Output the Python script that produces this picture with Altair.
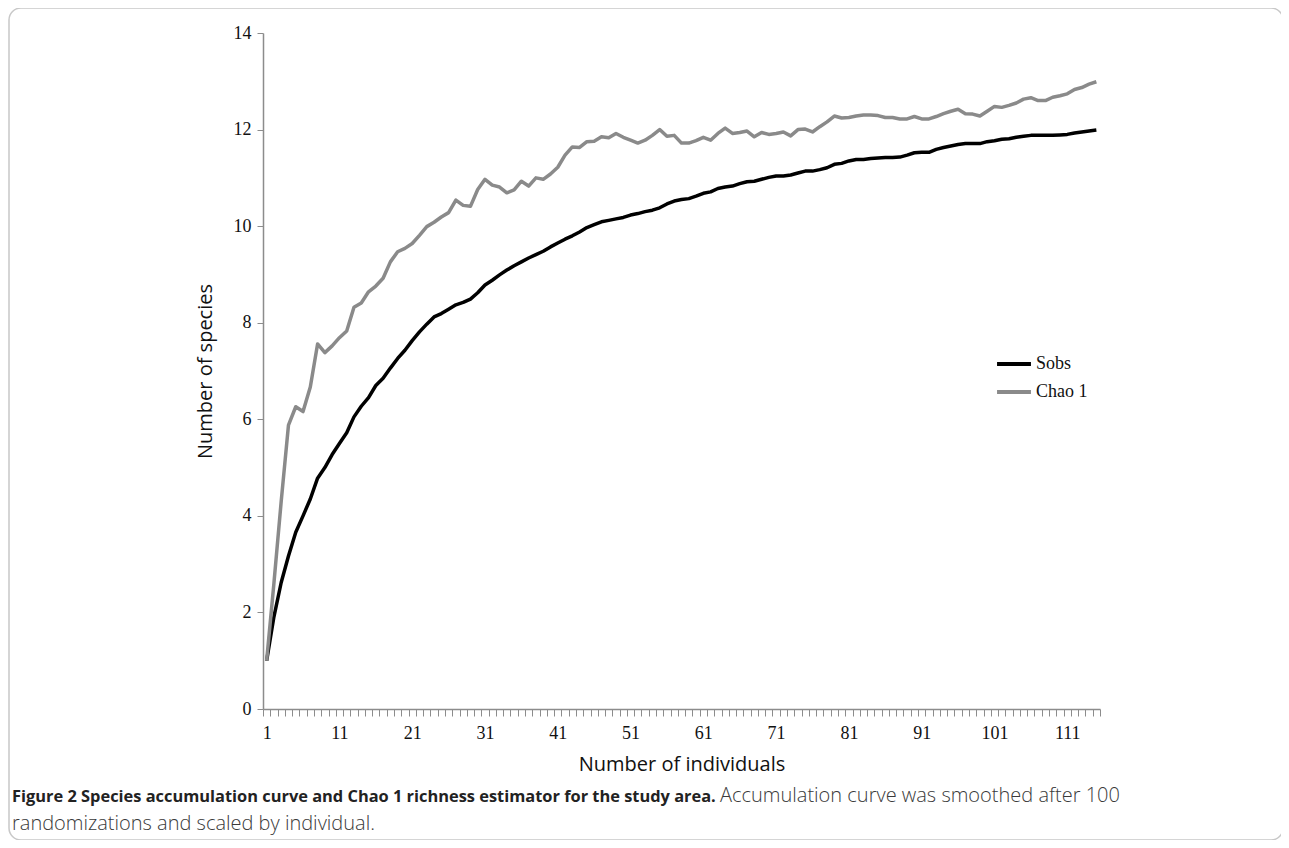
import altair as alt
import pandas as pd

individuals = list(range(1, 116))

sobs = [
    1.00, 1.91, 2.62, 3.17, 3.66, 4.00, 4.35, 4.78, 5.00, 5.27,
    5.50, 5.72, 6.05, 6.27, 6.45, 6.70, 6.85, 7.06, 7.26, 7.43,
    7.63, 7.81, 7.97, 8.12, 8.19, 8.28, 8.37, 8.42, 8.49, 8.62,
    8.78, 8.88, 8.99, 9.09, 9.18, 9.26, 9.34, 9.41, 9.48, 9.57,
    9.65, 9.73, 9.80, 9.88, 9.97, 10.03, 10.09, 10.12, 10.15, 10.18,
    10.23, 10.26, 10.30, 10.33, 10.38, 10.46, 10.52, 10.55, 10.57, 10.62,
    10.68, 10.71, 10.78, 10.81, 10.83, 10.88, 10.92, 10.93, 10.97, 11.01,
    11.04, 11.04, 11.06, 11.10, 11.14, 11.14, 11.17, 11.21, 11.28, 11.30,
    11.35, 11.38, 11.38, 11.40, 11.41, 11.42, 11.42, 11.43, 11.47, 11.52,
    11.53, 11.53, 11.59, 11.63, 11.66, 11.69, 11.71, 11.71, 11.71, 11.75,
    11.77, 11.80, 11.81, 11.84, 11.86, 11.88, 11.88, 11.88, 11.88, 11.89,
    11.90, 11.93, 11.95, 11.97, 11.99,
]

chao1 = [
    1.00, 2.60, 4.30, 5.88, 6.26, 6.16, 6.67, 7.56, 7.38, 7.52,
    7.69, 7.83, 8.32, 8.41, 8.64, 8.76, 8.92, 9.26, 9.47, 9.54,
    9.64, 9.81, 9.99, 10.08, 10.19, 10.28, 10.54, 10.43, 10.41, 10.76,
    10.97, 10.85, 10.81, 10.69, 10.75, 10.93, 10.83, 11.00, 10.97, 11.08,
    11.22, 11.47, 11.64, 11.63, 11.75, 11.76, 11.85, 11.83, 11.92, 11.84,
    11.78, 11.72, 11.78, 11.88, 12.00, 11.86, 11.88, 11.72, 11.72, 11.77,
    11.84, 11.78, 11.92, 12.03, 11.92, 11.94, 11.97, 11.85, 11.94, 11.90,
    11.92, 11.95, 11.87, 12.00, 12.01, 11.95, 12.06, 12.16, 12.28, 12.24,
    12.25, 12.28, 12.30, 12.30, 12.29, 12.25, 12.25, 12.22, 12.22, 12.27,
    12.22, 12.22, 12.27, 12.33, 12.38, 12.42, 12.33, 12.32, 12.28, 12.38,
    12.48, 12.46, 12.50, 12.55, 12.63, 12.66, 12.60, 12.60, 12.67, 12.70,
    12.74, 12.83, 12.87, 12.94, 12.99,
]

series_names = ["Sobs", "Chao 1"]
series_colors = ["#000000", "#8a8a8a"]
y_ticks = [0, 2, 4, 6, 8, 10, 12, 14]
x_tick_edges = [k + 0.5 for k in range(0, 116)]

caption_bold = "Figure 2 Species accumulation curve and Chao 1 richness estimator for the study area."
caption_rest1 = "Accumulation curve was smoothed after 100"
caption_rest2 = "randomizations and scaled by individual."

rows = []
for n, s, c in zip(individuals, sobs, chao1):
    rows.append({"n": n, "series": "Sobs", "value": s})
    rows.append({"n": n, "series": "Chao 1", "value": c})
df = pd.DataFrame(rows)

W, H = 837, 676
step = W / 115.0

lines = alt.Chart(df).mark_line(strokeWidth=3.5, strokeJoin="round").encode(
    x=alt.X(
        "n:Q",
        scale=alt.Scale(domain=[0.5, 115.5], nice=False, zero=False),
        axis=alt.Axis(
            title="Number of individuals",
            values=x_tick_edges,
            labelExpr="datum.value % 10 == 0.5 ? format(datum.value + 0.5, 'd') : ''",
            labelOffset=step / 2,
            labelFlush=False,
            labelOverlap=False,
            labelBound=False,
            grid=False,
            tickSize=7,
            tickColor="#8c8c8c",
            domainColor="#8c8c8c",
            domainWidth=1.5,
            labelFont="Liberation Serif",
            labelFontSize=18,
            labelColor="#111111",
            labelPadding=8,
            titleFont="Open Sans",
            titleFontSize=20,
            titleFontWeight="normal",
            titleColor="#111111",
            titlePadding=12,
        ),
    ),
    y=alt.Y(
        "value:Q",
        scale=alt.Scale(domain=[0, 14], nice=False),
        axis=alt.Axis(
            title="Number of species",
            values=y_ticks,
            grid=False,
            tickSize=6,
            tickColor="#8c8c8c",
            domainColor="#8c8c8c",
            domainWidth=1.5,
            labelFont="Liberation Serif",
            labelFontSize=18,
            labelColor="#111111",
            labelPadding=6,
            titleFont="Open Sans",
            titleFontSize=20,
            titleFontWeight="normal",
            titleColor="#111111",
            titlePadding=18,
        ),
    ),
    color=alt.Color(
        "series:N",
        scale=alt.Scale(domain=series_names, range=series_colors),
        legend=alt.Legend(
            title=None,
            orient="none",
            legendX=732,
            legendY=312,
            symbolType="stroke",
            symbolStrokeWidth=4,
            symbolSize=1150,
            labelFont="Liberation Serif",
            labelFontSize=18,
            labelColor="#111111",
            rowPadding=-6,
            labelOffset=3,
        ),
    ),
    order=alt.Order("n:Q"),
    detail="series:N",
)

one = pd.DataFrame({"t": [0]})

border = alt.Chart(one).mark_rect(
    fillOpacity=0, stroke="#c8c8c8", strokeWidth=1.5, cornerRadius=12
).encode(x=alt.value(-254), x2=alt.value(1020), y=alt.value(-25), y2=alt.value(807))

cap1 = alt.Chart(pd.DataFrame({"t": [caption_bold]})).mark_text(
    align="left", baseline="alphabetic", font="Open Sans", fontSize=16.4,
    fontWeight="bold", color="#222222"
).encode(x=alt.value(-251), y=alt.value(769), text="t:N")

cap2 = alt.Chart(pd.DataFrame({"t": [caption_rest1]})).mark_text(
    align="left", baseline="alphabetic", font="Open Sans", fontSize=20,
    fontWeight=300, color="#3a3a3a"
).encode(x=alt.value(457), y=alt.value(769), text="t:N")

cap3 = alt.Chart(pd.DataFrame({"t": [caption_rest2]})).mark_text(
    align="left", baseline="alphabetic", font="Open Sans", fontSize=20,
    fontWeight=300, color="#3a3a3a"
).encode(x=alt.value(-251), y=alt.value(797), text="t:N")

chart = alt.layer(border, lines, cap1, cap2, cap3).properties(
    width=W,
    height=H,
    autosize=alt.AutoSizeParams(type="none"),
    padding={"left": 255, "top": 25, "right": 181, "bottom": 131},
).configure_view(stroke=None)

chart.save("out.html", embed_options={"renderer": "svg", "actions": False})
